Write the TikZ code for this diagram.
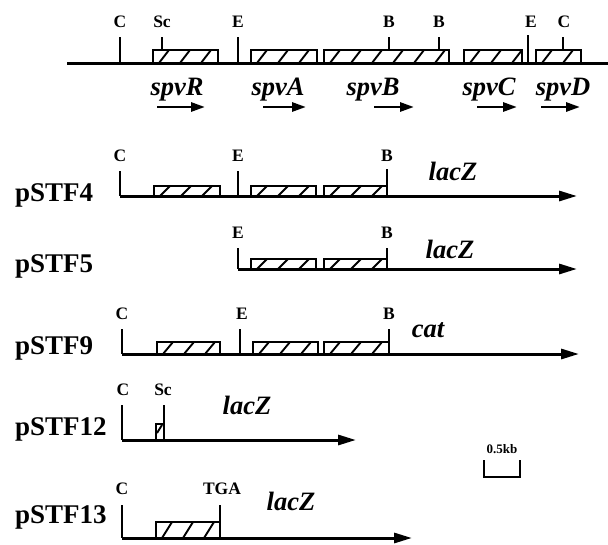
\documentclass[tikz,border=0pt]{standalone}
\usepackage{fontspec}
\setmainfont{Liberation Serif}
\usetikzlibrary{arrows.meta}
\tikzset{
  mainline/.style={line width=3pt},
  tick/.style={line width=2.2pt},
  boxline/.style={line width=2pt, line join=miter},
  hatchline/.style={line width=1.9pt},
  site/.style={font=\fontsize{17.5}{17.5}\selectfont\bfseries, anchor=base, inner sep=0pt},
  gene/.style={font=\fontsize{26.5}{26.5}\selectfont\bfseries\itshape, anchor=base, inner sep=0pt},
  plasmid/.style={font=\fontsize{27}{27}\selectfont\bfseries, anchor=base west, inner sep=0pt},
  bigarrow/.style={mainline, -{Triangle[length=18pt,width=10pt]}},
  smallarrow/.style={line width=2.8pt, -{Triangle[length=14pt,width=9pt]}},
}
\newcommand{\hbx}[4]{% x1, x2, ytop, ybase
  \begin{scope}
    \clip (#1,#3) rectangle (#2,#4);
    \foreach \k in {0,...,7} {
      \draw[hatchline] ({#1+6+\k*21},#4) -- ({#1+16+\k*21},#3);
    }
  \end{scope}
  \draw[boxline] (#1,#4) -- (#1,#3) -- (#2,#3) -- (#2,#4);
}
\begin{document}
\begin{tikzpicture}[x=1pt,y=-1pt]
\useasboundingbox (0,0) rectangle (608,544);

% ---------- top map ----------
\coordinate (t0) at (67,63);
\coordinate (t1) at (608,63);
\draw[mainline] (t0) -- (t1);
\hbx{153}{218}{50}{63}
\hbx{251}{317}{50}{63}
\hbx{324}{449}{50}{63}
\hbx{464}{522}{50}{63}
\hbx{536}{581}{50}{63}
\draw[tick] (120,37) -- (120,63);
\draw[tick] (162,37) -- (162,50);
\draw[tick] (238,37) -- (238,63);
\draw[tick] (389,37) -- (389,50);
\draw[tick] (439,37) -- (439,50);
\draw[tick] (528,35) -- (528,63);
\draw[tick] (563,37) -- (563,50);
\node[site] (tC1) at (120,27) {C};
\node[site] (tSc) at (162,27) {Sc};
\node[site] (tE1) at (238,27) {E};
\node[site] (tB1) at (389,27) {B};
\node[site] (tB2) at (439,27) {B};
\node[site] (tE2) at (531,27) {E};
\node[site] (tC2) at (564,27) {C};
\node[gene] (gR) at (177,95) {spvR};
\node[gene] (gA) at (278,95) {spvA};
\node[gene] (gB) at (373,95) {spvB};
\node[gene] (gC) at (489,95) {spvC};
\node[gene] (gD) at (563,95) {spvD};
\coordinate (aR0) at (157,107); \coordinate (aR1) at (205,107);
\coordinate (aA0) at (263,107); \coordinate (aA1) at (306,107);
\coordinate (aB0) at (374,107); \coordinate (aB1) at (414,107);
\coordinate (aC0) at (477,107); \coordinate (aC1) at (517,107);
\coordinate (aD0) at (541,107); \coordinate (aD1) at (580,107);
\draw[smallarrow] (aR0) -- (aR1);
\draw[smallarrow] (aA0) -- (aA1);
\draw[smallarrow] (aB0) -- (aB1);
\draw[smallarrow] (aC0) -- (aC1);
\draw[smallarrow] (aD0) -- (aD1);

% ---------- pSTF4 ----------
\node[plasmid] (p4) at (15,201) {pSTF4};
\coordinate (p4s) at (120,196); \coordinate (p4e) at (577,196);
\hbx{154}{220}{186}{196}
\hbx{251}{316}{186}{196}
\hbx{324}{387}{186}{196}
\draw[tick] (120,171) -- (p4s);
\draw[tick] (238,171) -- (238,196);
\draw[tick] (387,169) -- (387,196);
\draw[bigarrow] (p4s) -- (p4e);
\node[site] (p4C) at (120,161) {C};
\node[site] (p4E) at (238,161) {E};
\node[site] (p4B) at (387,161) {B};
\node[gene] (p4g) at (453,180) {lacZ};

% ---------- pSTF5 ----------
\node[plasmid] (p5) at (15,272) {pSTF5};
\coordinate (p5s) at (238,269); \coordinate (p5e) at (577,269);
\hbx{251}{316}{259}{269}
\hbx{324}{387}{259}{269}
\draw[tick] (238,248) -- (p5s);
\draw[tick] (387,248) -- (387,269);
\draw[bigarrow] (p5s) -- (p5e);
\node[site] (p5E) at (238,238) {E};
\node[site] (p5B) at (387,238) {B};
\node[gene] (p5g) at (450,258) {lacZ};

% ---------- pSTF9 ----------
\node[plasmid] (p9) at (15,354) {pSTF9};
\coordinate (p9s) at (122,354); \coordinate (p9e) at (579,354);
\hbx{157}{220}{342}{354}
\hbx{253}{318}{342}{354}
\hbx{324}{389}{342}{354}
\draw[tick] (122,329) -- (p9s);
\draw[tick] (240,329) -- (240,354);
\draw[tick] (389,329) -- (389,354);
\draw[bigarrow] (p9s) -- (p9e);
\node[site] (p9C) at (122,319) {C};
\node[site] (p9E) at (242,319) {E};
\node[site] (p9B) at (389,319) {B};
\node[gene] (p9g) at (428,337) {cat};

% ---------- pSTF12 ----------
\node[plasmid] (p12) at (15,435) {pSTF12};
\coordinate (p12s) at (122,440); \coordinate (p12e) at (356,440);
\draw[boxline] (156,440) -- (156,424) -- (164,424);
\draw[hatchline] (157,433) -- (162,425);
\draw[tick] (122,405) -- (p12s);
\draw[tick] (164,405) -- (164,440);
\draw[bigarrow] (p12s) -- (p12e);
\node[site] (p12C) at (123,395) {C};
\node[site] (p12Sc) at (163,395) {Sc};
\node[gene] (p12g) at (247,414) {lacZ};

% ---------- pSTF13 ----------
\node[plasmid] (p13) at (15,523) {pSTF13};
\coordinate (p13s) at (122,538); \coordinate (p13e) at (412,538);
\hbx{156}{220}{522}{538}
\draw[tick] (122,505) -- (p13s);
\draw[tick] (220,505) -- (220,538);
\draw[bigarrow] (p13s) -- (p13e);
\node[site] (p13C) at (122,494) {C};
\node[site] (p13T) at (222,494) {TGA};
\node[gene] (p13g) at (291,510) {lacZ};

% ---------- scale bar ----------
\node[font=\fontsize{13}{13}\selectfont\bfseries, anchor=base, inner sep=0pt] (sb) at (502,453) {0.5kb};
\coordinate (s0) at (484,460); \coordinate (s1) at (520,460);
\draw[tick] (s0) -- (484,477) -- (520,477) -- (s1);
\end{tikzpicture}
\end{document}
